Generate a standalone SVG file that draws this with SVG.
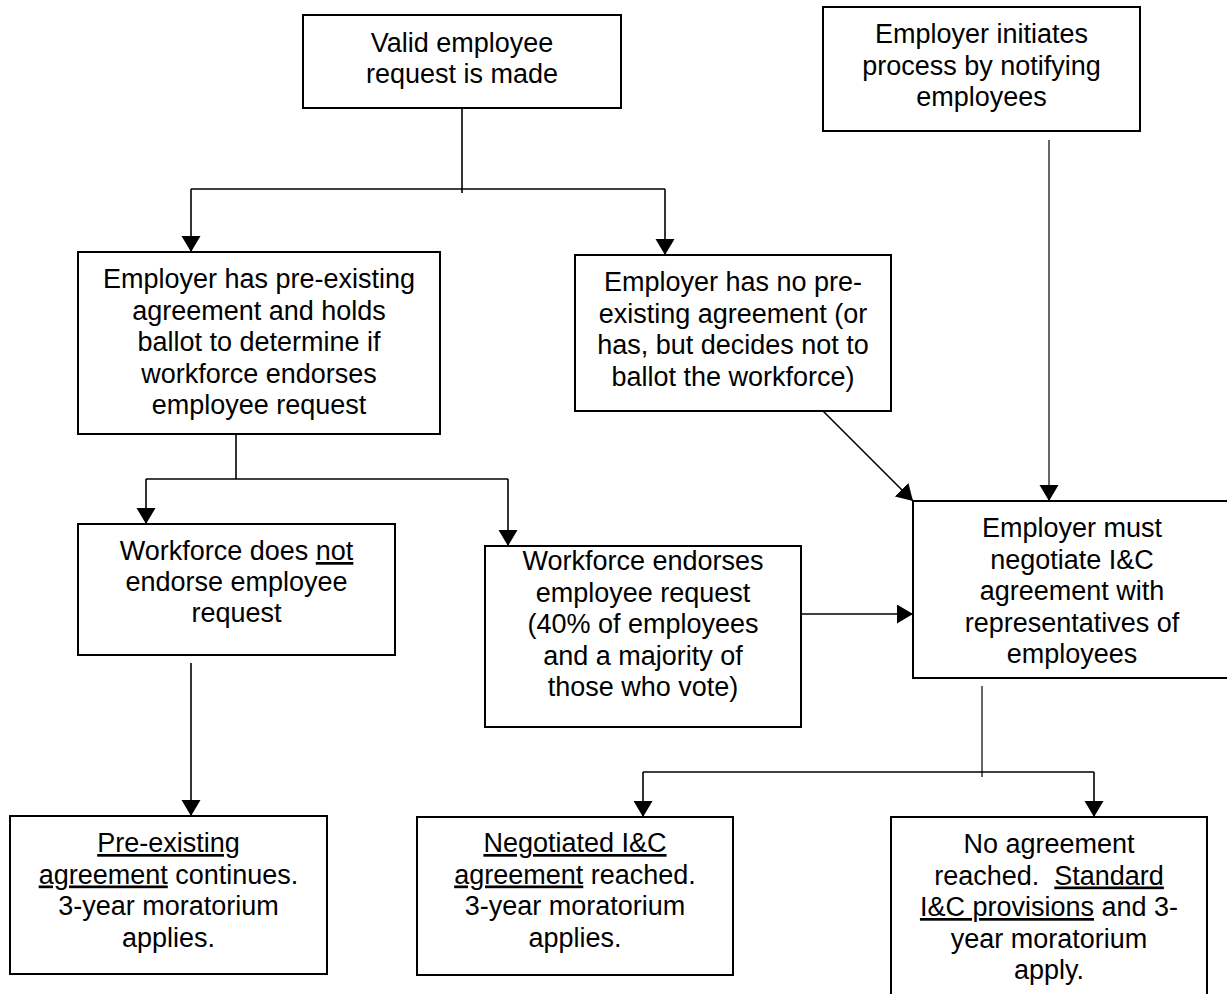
<svg xmlns="http://www.w3.org/2000/svg" width="1227" height="994" viewBox="0 0 1227 994">
<style>
.box{fill:#fff;stroke:#000;stroke-width:2}
.t{font-family:"Liberation Sans",Arial,sans-serif;font-size:27px;fill:#000;text-anchor:middle}
.c{fill:none;stroke:#000;stroke-width:1.6}
.thin{fill:none;stroke:#000;stroke-width:1.2}
.u{text-decoration:underline}
</style>
<defs>
<marker id="ah" markerUnits="userSpaceOnUse" markerWidth="17" markerHeight="20" refX="16" refY="9.5" orient="auto">
<path d="M0,0 L16,9.5 L0,19 z" fill="#000"/>
</marker>
</defs>
<rect width="1227" height="994" fill="#fff"/>
<g id="connectors">
<path class="c" d="M462,103 V193"/>
<path class="c" d="M191,189 H665"/>
<path class="c" d="M191,189 V252" marker-end="url(#ah)"/>
<path class="c" d="M665,189 V255" marker-end="url(#ah)"/>
<path class="c" d="M236,434 V479"/>
<path class="c" d="M146,479 H508"/>
<path class="c" d="M146,479 V524" marker-end="url(#ah)"/>
<path class="c" d="M508,479 V546" marker-end="url(#ah)"/>
<path class="c" d="M191,663 V816" marker-end="url(#ah)"/>
<path class="c" d="M823,411 L913,501" marker-end="url(#ah)"/>
<path class="thin" d="M1049,140 V501" marker-end="url(#ah)"/>
<path class="c" d="M801,614 H913" marker-end="url(#ah)"/>
<path class="thin" d="M982,686 V777"/>
<path class="c" d="M643,772 H1094"/>
<path class="c" d="M643,772 V817" marker-end="url(#ah)"/>
<path class="c" d="M1094,772 V817" marker-end="url(#ah)"/>
</g>
<g id="valid-request">
<rect class="box" x="303" y="15" width="318" height="93"/>
<text class="t"><tspan x="462" y="52">Valid employee</tspan><tspan x="462" y="83">request is made</tspan></text>
</g>
<g id="employer-initiates">
<rect class="box" x="823" y="7" width="317" height="124"/>
<text class="t"><tspan x="981.5" y="43">Employer initiates</tspan><tspan x="981.5" y="74.5">process by notifying</tspan><tspan x="981.5" y="106">employees</tspan></text>
</g>
<g id="pre-existing-ballot">
<rect class="box" x="78" y="252" width="362" height="182"/>
<text class="t"><tspan x="259" y="288">Employer has pre-existing</tspan><tspan x="259" y="319.5">agreement and holds</tspan><tspan x="259" y="351">ballot to determine if</tspan><tspan x="259" y="382.5">workforce endorses</tspan><tspan x="259" y="414">employee request</tspan></text>
</g>
<g id="no-pre-existing">
<rect class="box" x="575" y="255" width="316" height="156"/>
<text class="t"><tspan x="733" y="291">Employer has no pre-</tspan><tspan x="733" y="322.5">existing agreement (or</tspan><tspan x="733" y="354">has, but decides not to</tspan><tspan x="733" y="385.5">ballot the workforce)</tspan></text>
</g>
<g id="not-endorse">
<rect class="box" x="78" y="524" width="317" height="131"/>
<text class="t"><tspan x="236.5" y="560">Workforce does <tspan class="u">not</tspan></tspan><tspan x="236.5" y="591">endorse employee</tspan><tspan x="236.5" y="622">request</tspan></text>
</g>
<g id="endorses">
<rect class="box" x="485" y="546" width="316" height="181"/>
<text class="t"><tspan x="643" y="570">Workforce endorses</tspan><tspan x="643" y="601.5">employee request</tspan><tspan x="643" y="633">(40% of employees</tspan><tspan x="643" y="664.5">and a majority of</tspan><tspan x="643" y="696">those who vote)</tspan></text>
</g>
<g id="must-negotiate">
<rect class="box" x="913" y="501" width="318" height="177"/>
<text class="t"><tspan x="1072" y="537">Employer must</tspan><tspan x="1072" y="568.5">negotiate I&amp;C</tspan><tspan x="1072" y="600">agreement with</tspan><tspan x="1072" y="631.5">representatives of</tspan><tspan x="1072" y="663">employees</tspan></text>
</g>
<g id="pre-existing-continues">
<rect class="box" x="10" y="816" width="317" height="158"/>
<text class="t"><tspan x="168.5" y="852" class="u">Pre-existing</tspan><tspan x="168.5" y="883.5"><tspan class="u">agreement</tspan> continues.</tspan><tspan x="168.5" y="915">3-year moratorium</tspan><tspan x="168.5" y="946.5">applies.</tspan></text>
</g>
<g id="negotiated-reached">
<rect class="box" x="417" y="817" width="316" height="158"/>
<text class="t"><tspan x="575" y="852" class="u">Negotiated I&amp;C</tspan><tspan x="575" y="883.5"><tspan class="u">agreement</tspan> reached.</tspan><tspan x="575" y="915">3-year moratorium</tspan><tspan x="575" y="946.5">applies.</tspan></text>
</g>
<g id="no-agreement">
<rect class="box" x="891" y="817" width="316" height="190"/>
<text class="t" style="white-space:pre"><tspan x="1049" y="853">No agreement</tspan><tspan x="1049" y="884.5">reached.  <tspan class="u">Standard</tspan></tspan><tspan x="1049" y="916"><tspan class="u">I&amp;C provisions</tspan> and 3-</tspan><tspan x="1049" y="947.5">year moratorium</tspan><tspan x="1049" y="979">apply.</tspan></text>
</g>
</svg>
